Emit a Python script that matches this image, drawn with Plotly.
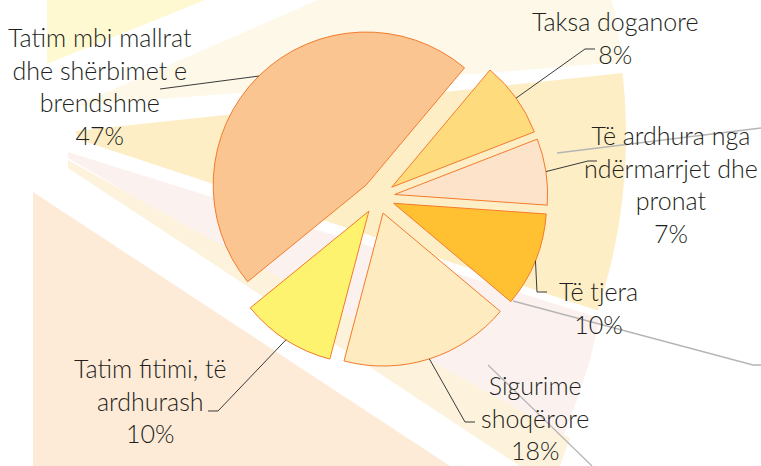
import math
import plotly.graph_objects as go

W, H = 761, 466

# ---------------- data ----------------
categories = [
    "Taksa doganore",
    "Të ardhura nga ndërmarrjet dhe pronat",
    "Të tjera",
    "Sigurime shoqërore",
    "Tatim fitimi, të ardhurash",
    "Tatim mbi mallrat dhe shërbimet e brendshme",
]
label_lines = [
    "Taksa doganore",
    "Të ardhura nga<br>ndërmarrjet dhe<br>pronat",
    "Të tjera",
    "Sigurime<br>shoqërore",
    "Tatim fitimi, të<br>ardhurash",
    "Tatim mbi mallrat<br>dhe shërbimet e<br>brendshme",
]
values = [8, 7, 10, 18, 10, 47]

# ---------------- styles / layout ----------------
slice_colors = ["#FEDC7E", "#FDE3C9", "#FFC132", "#FEEBBF", "#FEF36F", "#FBC591"]
edge_color = "#F47B2B"
text_color = "#231F20"
FONT = "Lato"
FS = 25

ROT = 40
PULL = 0.11
CX, CY = 378, 197        # pie centre (px)
R = 153                  # pie radius (px)
half = R * (1 + PULL)

# label block centres (px) and leader elbows (px)
label_pos = [(615, 38), (671, 184), (598, 307), (535, 417), (150, 400), (100, 86)]
leader_pts = [
    [(585, 49), (595, 49)],
    [(588, 161), (597, 161)],
    [(537, 292), (547, 292)],
    [(465, 422), (475, 422)],
    [(218, 411), (208, 411)],
    [(160, 89)],
]


def px(x, y):
    return x / W, 1 - y / H


def path_from(points, close=True):
    s = ""
    for i, (x, y) in enumerate(points):
        u, v = px(x, y)
        s += ("M" if i == 0 else "L") + f"{u:.5f},{v:.5f} "
    return s + ("Z" if close else "")


def arc(cx, cy, r, a0, a1, n=20):
    return [(cx + r * math.cos(math.radians(a0 + (a1 - a0) * k / n)),
             cy + r * math.sin(math.radians(a0 + (a1 - a0) * k / n))) for k in range(n + 1)]


shapes = []
# decorative sunburst background
bg = [
    ("#FFF9D2", [(47, 0), (205, 0), (47, 64)]),
    ("#FDF8E7", [(318, 0), (612, 0), (618, 31), (622, 62), (75, 106)]),
    ("#FEEEC6", [(75, 131)] + arc(70, 135, 556, -6.4, 18.4) + [(80, 140)]),
    ("#FBF2EF", [(68, 152), (600, 318), (590, 360), (577, 400), (560, 445), (68, 158)]),
    ("#FDF2DC", [(68, 160), (570, 438), (560, 466), (520, 466), (68, 168)]),
    ("#FDEBD8", [(33, 192), (450, 466), (33, 466)]),
]
for col, pts in bg:
    shapes.append(dict(type="path", xref="paper", yref="paper", path=path_from(pts),
                       fillcolor=col, line=dict(width=0), layer="below"))

# decorative grey lines
grey = [
    [(557, 153), (761, 128)],
    [(513, 301), (753, 365), (761, 365)],
    [(488, 365), (592, 466)],
]
for pts in grey:
    shapes.append(dict(type="path", xref="paper", yref="paper", path=path_from(pts, False),
                       line=dict(color="#B5B5B5", width=1.3), layer="below"))

fig = go.Figure()
fig.add_trace(go.Pie(
    labels=categories, values=values, sort=False, direction="clockwise",
    rotation=ROT, pull=PULL, textinfo="none", hoverinfo="label+percent",
    marker=dict(colors=slice_colors, line=dict(color=edge_color, width=1)),
    domain=dict(x=[(CX - half) / W, (CX + half) / W], y=[1 - (CY + half) / H, 1 - (CY - half) / H]),
    showlegend=False,
))

total = sum(values)
annotations = []
cum = 0
for i, v in enumerate(values):
    a = math.radians(ROT + 360 * (cum + v / 2) / total)
    cum += v
    sx = CX + half * math.sin(a)
    sy = CY - half * math.cos(a)
    shapes.append(dict(type="path", xref="paper", yref="paper",
                       path=path_from([(sx, sy)] + leader_pts[i], False),
                       line=dict(color="#3a3a3a", width=1)))
    lx, ly = label_pos[i]
    u, w = px(lx, ly)
    annotations.append(dict(
        x=u, y=w, xref="paper", yref="paper", xanchor="center", yanchor="middle",
        align="center", showarrow=False,
        text=f"{label_lines[i]}<br>{round(v / total * 100)}%",
        font=dict(family=FONT, size=FS, color=text_color, weight=300),
    ))

fig.update_layout(
    width=W, height=H, margin=dict(l=0, r=0, t=0, b=0),
    paper_bgcolor="white", plot_bgcolor="white",
    shapes=shapes, annotations=annotations,
)
fig.write_html("out.html")
